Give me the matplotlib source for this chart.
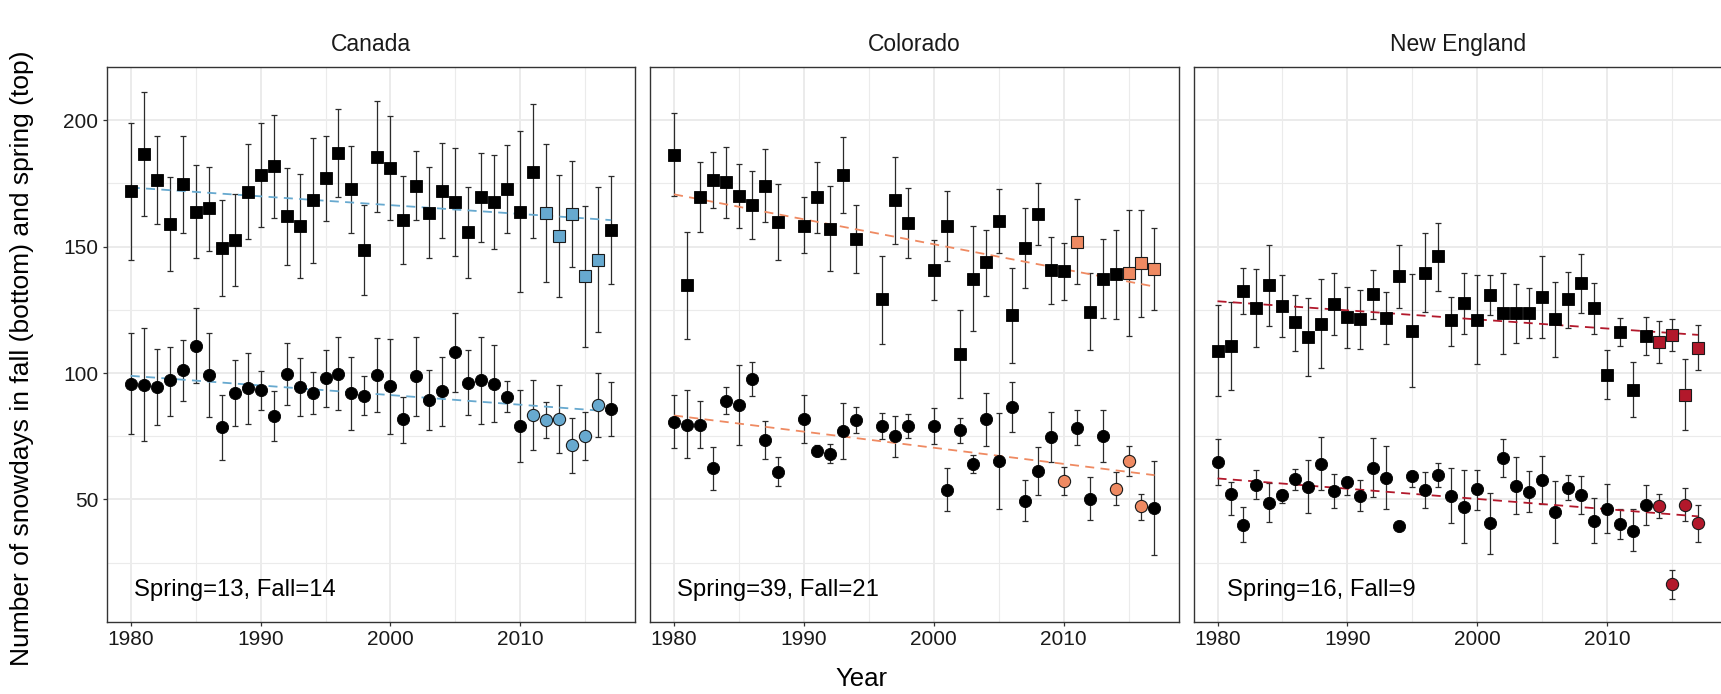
import numpy as np
import matplotlib
matplotlib.use("Agg")
import matplotlib.pyplot as plt
from matplotlib.ticker import MultipleLocator, FixedLocator

plt.rcParams['font.family'] = ['Liberation Sans', 'DejaVu Sans']

regions = ["Canada", "Colorado", "New England"]
region_colors = ["#67a9cf", "#ef8a62", "#b2182b"]
count_labels = ["Spring=13, Fall=14", "Spring=39, Fall=21", "Spring=16, Fall=9"]

# ---------------- Canada ----------------
canada_years = list(range(1980, 2018))
canada_spring = [171.9, 186.7, 176.4, 159.0, 174.7, 163.9, 165.2, 149.5, 152.7, 171.8,
                 178.5, 181.8, 162.1, 158.3, 168.3, 177.0, 186.9, 172.7, 148.7, 185.6,
                 181.3, 160.6, 174.0, 163.5, 172.2, 167.7, 155.7, 169.5, 167.7, 172.8,
                 163.9, 179.7, 163.2, 154.1, 163.1, 138.2, 144.9, 156.4]
canada_spring_hi = [199.1, 211.3, 193.7, 177.4, 193.7, 182.3, 181.7, 168.6, 170.8, 190.5,
                    199.1, 202.1, 181.0, 178.9, 193.1, 193.9, 204.5, 189.8, 166.4, 207.5,
                    201.8, 178.0, 187.7, 181.4, 190.9, 188.9, 173.8, 187.0, 186.2, 190.1,
                    195.6, 206.3, 190.6, 178.4, 184.0, 165.9, 173.5, 177.8]
canada_spring_lo = [144.7, 162.1, 158.8, 140.3, 155.5, 145.4, 148.4, 130.6, 134.3, 153.0,
                    157.9, 161.4, 142.9, 137.7, 143.5, 160.0, 169.5, 155.4, 130.9, 163.6,
                    160.4, 143.0, 160.4, 145.5, 153.3, 146.3, 137.6, 151.7, 149.0, 155.3,
                    132.0, 153.3, 135.9, 129.9, 142.1, 110.3, 116.4, 135.1]
canada_fall = [95.8, 95.3, 94.5, 97.1, 101.1, 110.8, 99.2, 78.5, 92.1, 94.1,
               93.1, 83.1, 99.6, 94.5, 92.1, 97.9, 99.7, 92.0, 91.0, 99.2,
               94.7, 81.8, 98.7, 89.2, 92.7, 108.3, 96.2, 97.1, 95.8, 90.5,
               79.2, 83.3, 81.4, 81.7, 71.5, 75.2, 87.2, 85.8]
canada_fall_hi = [115.8, 117.7, 109.5, 110.3, 112.9, 125.6, 115.8, 91.3, 105.0, 108.0,
                  100.9, 92.9, 111.9, 106.1, 100.3, 109.0, 114.2, 106.5, 98.9, 113.8,
                  113.4, 90.4, 114.1, 101.1, 106.2, 123.7, 109.1, 114.1, 110.9, 96.8,
                  93.4, 97.2, 88.7, 95.3, 82.2, 84.4, 99.9, 96.6]
canada_fall_lo = [75.9, 73.1, 79.3, 83.1, 88.9, 96.0, 82.7, 65.7, 79.2, 79.8,
                  85.4, 73.1, 87.3, 82.9, 83.8, 86.7, 85.2, 77.3, 83.3, 84.4,
                  75.9, 72.3, 83.1, 77.6, 79.2, 92.6, 83.3, 79.8, 80.6, 84.4,
                  64.7, 69.4, 74.2, 68.2, 60.6, 65.6, 74.6, 74.9]
canada_spring_highlight = [2012, 2013, 2014, 2015, 2016]
canada_fall_highlight = [2011, 2012, 2013, 2014, 2015, 2016]
canada_trend_spring = [173.4, 160.5]
canada_trend_fall = [98.9, 84.8]

# ---------------- Colorado ----------------
colorado_years = [1980, 1981, 1982, 1983, 1984, 1985, 1986, 1987, 1988,
                  1990, 1991, 1992, 1993, 1994, 1996, 1997, 1998,
                  2000, 2001, 2002, 2003, 2004, 2005, 2006, 2007, 2008, 2009,
                  2010, 2011, 2012, 2013, 2014, 2015, 2016, 2017]
colorado_spring = [186.4, 134.7, 169.7, 176.4, 175.5, 169.9, 166.5, 174.1, 159.9,
                   158.3, 169.7, 157.0, 178.5, 153.2, 129.2, 168.3, 159.2,
                   140.8, 158.3, 107.4, 137.3, 143.8, 160.2, 122.9, 149.4, 163.0, 140.8,
                   140.4, 152.0, 124.3, 137.3, 139.2, 139.7, 143.4, 141.3]
colorado_spring_hi = [203.0, 155.8, 183.3, 187.3, 189.6, 182.7, 179.8, 188.6, 174.8,
                      169.5, 183.5, 173.9, 193.4, 166.6, 146.5, 185.6, 173.1,
                      152.5, 172.2, 124.8, 158.2, 156.7, 172.7, 141.7, 165.1, 175.1, 153.9,
                      151.6, 168.8, 139.5, 152.9, 156.7, 164.6, 164.6, 157.5]
colorado_spring_lo = [170.1, 113.6, 155.9, 165.3, 161.5, 157.3, 153.0, 159.6, 144.9,
                      147.4, 155.4, 140.5, 163.3, 139.7, 111.6, 151.2, 145.4,
                      129.0, 144.5, 90.3, 116.8, 130.6, 147.5, 103.9, 133.6, 150.7, 127.5,
                      129.0, 135.4, 109.1, 121.9, 121.4, 114.6, 122.0, 124.9]
colorado_fall = [80.8, 79.5, 79.5, 62.3, 89.1, 87.3, 97.7, 73.5, 61.0,
                 81.7, 69.2, 68.1, 77.1, 81.5, 79.0, 74.9, 79.0,
                 79.0, 53.9, 77.4, 64.1, 81.7, 65.2, 86.5, 49.4, 61.3, 74.7,
                 57.3, 78.4, 50.3, 75.0, 54.3, 65.1, 47.2, 46.5]
colorado_fall_hi = [91.2, 93.1, 88.8, 70.9, 94.4, 103.1, 104.3, 81.1, 66.8,
                    91.2, 71.6, 72.1, 88.2, 86.6, 84.2, 82.9, 83.7,
                    86.1, 62.5, 82.4, 67.6, 92.0, 84.1, 96.5, 57.5, 70.6, 84.4,
                    62.7, 85.2, 58.9, 85.3, 61.0, 71.0, 52.2, 65.2]
colorado_fall_lo = [70.3, 66.2, 70.3, 53.8, 83.8, 71.4, 91.1, 66.0, 55.4,
                    72.2, 67.0, 64.3, 65.9, 76.2, 73.9, 66.8, 74.2,
                    71.8, 45.3, 72.2, 60.6, 71.3, 46.3, 76.5, 41.6, 51.8, 65.0,
                    51.8, 71.6, 41.8, 64.8, 47.7, 59.2, 42.0, 28.0]
colorado_spring_highlight = [2011, 2015, 2016, 2017]
colorado_fall_highlight = [2010, 2014, 2015, 2016]
colorado_trend_spring = [170.7, 134.2]
colorado_trend_fall = [83.2, 59.6]

# ---------------- New England ----------------
ne_years = list(range(1980, 2018))
ne_spring = [108.9, 110.6, 132.4, 125.9, 134.7, 126.4, 120.0, 114.3, 119.4, 127.2,
             122.1, 121.4, 131.4, 121.8, 138.3, 116.8, 139.7, 146.2, 120.8, 127.6,
             121.0, 130.9, 123.7, 123.7, 123.7, 130.2, 121.3, 129.1, 135.7, 125.6,
             99.4, 116.3, 93.3, 114.8, 112.3, 115.0, 91.5, 110.1]
ne_spring_hi = [127.1, 128.0, 141.6, 141.3, 150.8, 138.7, 131.0, 129.5, 137.2, 139.5,
                133.9, 133.0, 140.9, 132.0, 150.8, 139.1, 155.6, 159.5, 130.2, 139.6,
                138.6, 138.8, 139.5, 135.3, 133.5, 146.3, 136.0, 140.0, 147.0, 135.7,
                109.1, 121.7, 104.5, 122.2, 120.5, 121.3, 105.6, 119.0]
ne_spring_lo = [90.9, 93.2, 123.3, 110.3, 118.5, 114.2, 108.8, 99.0, 101.9, 115.0,
                109.9, 109.7, 121.5, 111.4, 125.8, 94.6, 124.1, 132.6, 110.7, 115.3,
                103.4, 122.9, 107.6, 111.9, 113.8, 114.0, 106.2, 118.0, 123.9, 115.3,
                89.8, 110.6, 82.5, 107.3, 104.0, 108.6, 77.4, 101.2]
ne_fall = [64.8, 52.1, 40.0, 55.9, 48.7, 51.7, 57.9, 55.1, 64.2, 53.4,
           56.7, 51.5, 62.5, 58.6, 39.6, 59.1, 53.8, 59.8, 51.2, 47.1,
           54.0, 40.6, 66.4, 55.5, 52.9, 57.8, 45.0, 54.7, 51.7, 41.4,
           46.3, 40.1, 37.6, 47.9, 47.5, 16.4, 47.9, 40.5]
ne_fall_hi = [73.9, 56.7, 47.1, 61.7, 56.3, 53.8, 62.0, 65.7, 74.8, 60.2,
              58.2, 57.5, 74.3, 71.1, 39.6, 59.4, 60.8, 64.4, 62.3, 61.7,
              61.7, 52.6, 73.9, 66.6, 61.1, 67.1, 57.3, 59.6, 59.1, 50.5,
              56.1, 46.2, 46.2, 55.8, 52.2, 21.9, 54.4, 47.9]
ne_fall_lo = [55.7, 43.8, 33.1, 50.1, 40.9, 48.4, 53.7, 44.6, 53.7, 46.6,
              51.6, 45.5, 50.8, 46.2, 39.6, 55.1, 46.8, 55.1, 40.5, 32.7,
              46.0, 28.6, 58.8, 44.3, 45.1, 48.3, 32.7, 49.9, 44.2, 32.6,
              36.7, 34.2, 29.4, 40.0, 42.7, 10.7, 41.6, 33.3]
ne_spring_highlight = [2014, 2015, 2016, 2017]
ne_fall_highlight = [2014, 2015, 2016, 2017]
ne_trend_spring = [128.4, 115.1]
ne_trend_fall = [58.3, 43.3]

trend_years = [1980, 2017]
x_major = [1980, 1990, 2000, 2010]
y_major = [50, 100, 150, 200]

panels = [
    (canada_years, canada_spring, canada_spring_lo, canada_spring_hi,
     canada_fall, canada_fall_lo, canada_fall_hi,
     canada_spring_highlight, canada_fall_highlight, canada_trend_spring, canada_trend_fall),
    (colorado_years, colorado_spring, colorado_spring_lo, colorado_spring_hi,
     colorado_fall, colorado_fall_lo, colorado_fall_hi,
     colorado_spring_highlight, colorado_fall_highlight, colorado_trend_spring, colorado_trend_fall),
    (ne_years, ne_spring, ne_spring_lo, ne_spring_hi,
     ne_fall, ne_fall_lo, ne_fall_hi,
     ne_spring_highlight, ne_fall_highlight, ne_trend_spring, ne_trend_fall),
]

W, H = 1721, 694
fig = plt.figure(figsize=(W / 100, H / 100), dpi=100)
fig.patch.set_facecolor('white')

lefts = [106.7, 650.0, 1193.5]
pw = 528.5
top_px, bot_px = 66.7, 621.5

axes = []
for i, (reg, col, lab, pdata) in enumerate(zip(regions, region_colors, count_labels, panels)):
    (yrs, sp, splo, sphi, fa, falo, fahi, sphl, fahl, tsp, tfa) = pdata
    ax = fig.add_axes([lefts[i] / W, 1 - bot_px / H, pw / W, (bot_px - top_px) / H])
    axes.append(ax)
    yrs = np.array(yrs, dtype=float)
    for vals, lo, hi, hl, trend, mk, ms in [
        (sp, splo, sphi, sphl, tsp, 's', 8.0),
        (fa, falo, fahi, fahl, tfa, 'o', 8.8),
    ]:
        vals = np.array(vals); lo = np.array(lo); hi = np.array(hi)
        ax.errorbar(yrs, vals, yerr=[vals - lo, hi - vals], fmt='none',
                    ecolor='#2b2b2b', elinewidth=0.9, capsize=2.3, capthick=0.9, zorder=3)
        ax.plot(trend_years, trend, color=col, lw=1.3, dashes=(5, 3.5), zorder=4)
        is_hl = np.isin(yrs, hl)
        ax.plot(yrs[~is_hl], vals[~is_hl], linestyle='none', marker=mk, ms=ms,
                mfc='black', mec='black', mew=0.6, zorder=5)
        ax.plot(yrs[is_hl], vals[is_hl], linestyle='none', marker=mk, ms=ms,
                mfc=col, mec='#1a1a1a', mew=0.8, zorder=5)

    ax.text(1988, 14.2, lab, ha='center', va='center', fontsize=17.2, color='black', zorder=6)

    ax.set_xlim(1978.15, 2018.85)
    ax.set_ylim(1.7, 221.2)
    ax.xaxis.set_major_locator(FixedLocator(x_major))
    ax.xaxis.set_minor_locator(MultipleLocator(5))
    ax.yaxis.set_major_locator(FixedLocator(y_major))
    ax.yaxis.set_minor_locator(MultipleLocator(25))
    ax.grid(True, which='major', color='#ebebeb', lw=1.4, zorder=0)
    ax.grid(True, which='minor', color='#ebebeb', lw=0.8, zorder=0)
    ax.set_axisbelow(True)
    ax.tick_params(which='minor', length=0)
    ax.tick_params(which='major', direction='out', length=3.2, width=0.9, color='#333333',
                   labelsize=15, labelcolor='#1a1a1a', pad=3)
    for s in ax.spines.values():
        s.set_color('#333333')
        s.set_linewidth(1.0)
    if i > 0:
        ax.tick_params(axis='y', labelleft=False, length=0)
    ax.set_title(reg, fontsize=16.5, pad=11, color='#1a1a1a')

fig.text(861 / W, 1 - 679 / H, 'Year', ha='center', va='center', fontsize=18.5)
fig.text(22 / W, 1 - 358 / H,
         'Number of snowdays in fall (bottom) and spring (top)',
         ha='center', va='center', rotation=90, fontsize=19)

fig.savefig('out.png', dpi=100, facecolor='white')
